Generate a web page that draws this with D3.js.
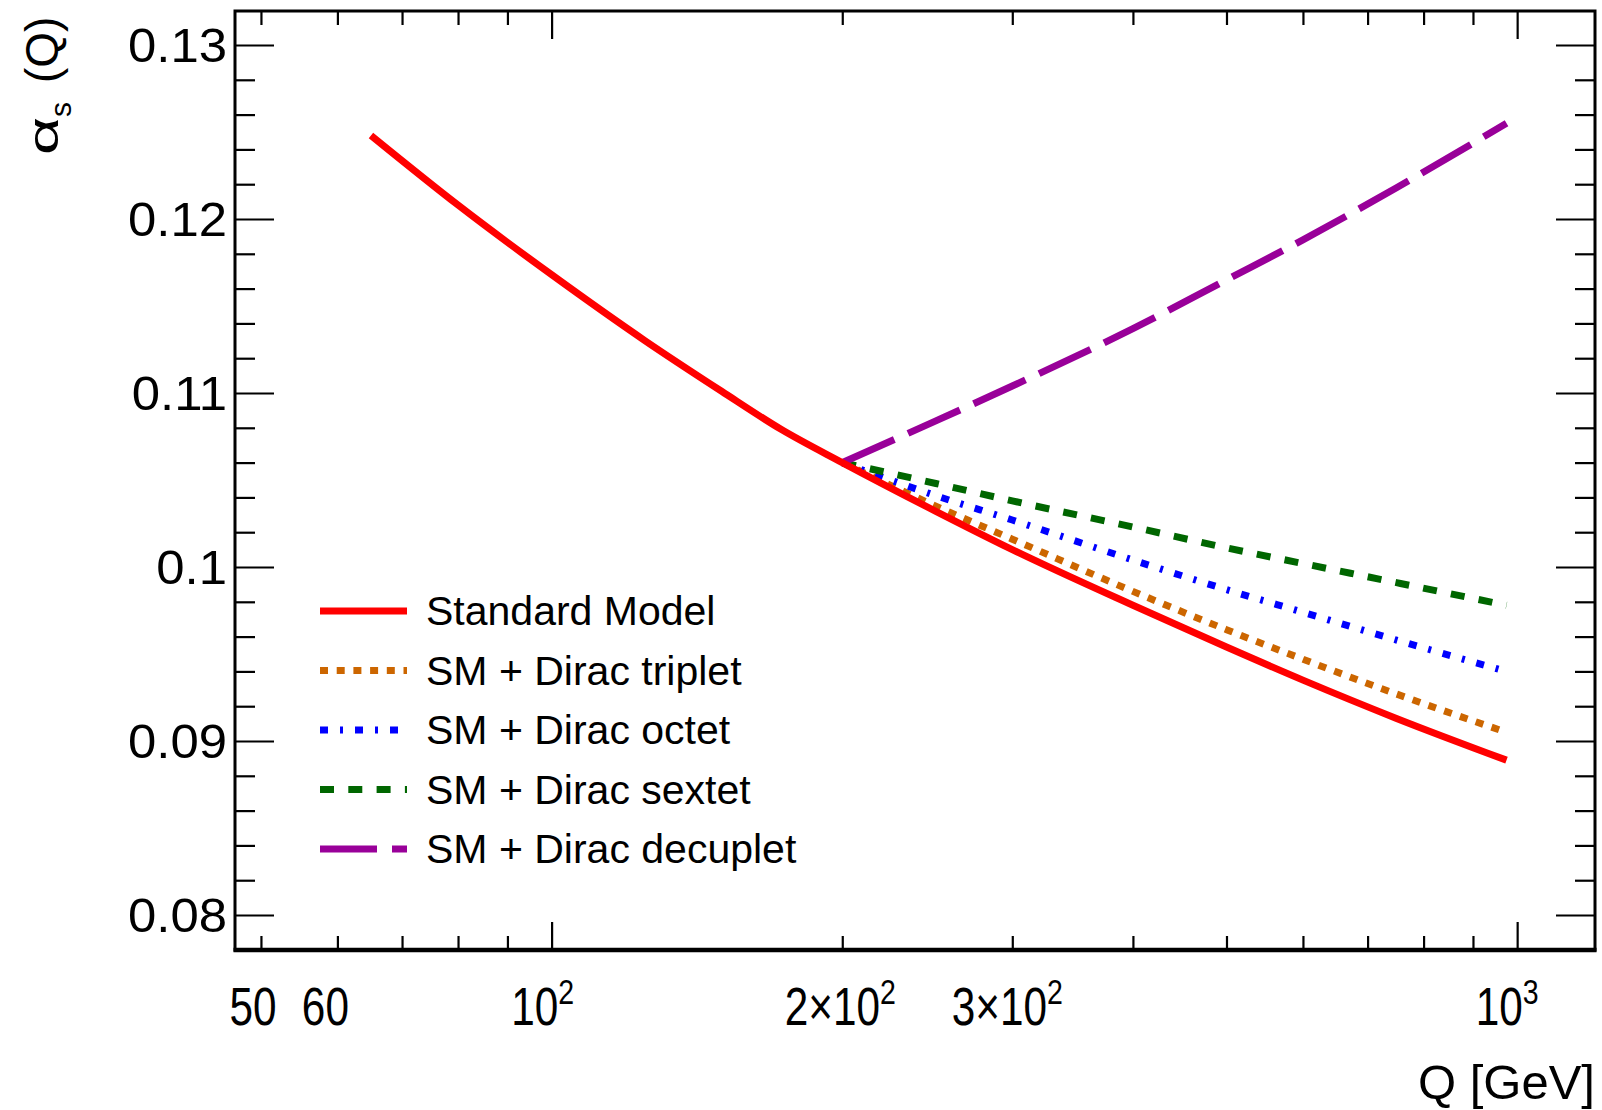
<!DOCTYPE html>
<html>
<head>
<meta charset="utf-8">
<script src="https://cdn.jsdelivr.net/npm/d3@7"></script>
<style>
body { margin: 0; background: #fff; }
text { font-family: "Liberation Sans", Arial, Helvetica, sans-serif; fill: #000; }
</style>
</head>
<body>
<script>
var svg_width  = 1602;
var svg_height = 1110;

// values
var smQ = [65, 80, 100, 125, 150, 173, 200, 250, 300, 400, 500, 600, 750, 975];
var smA = [0.1248, 0.1208, 0.1168, 0.1130, 0.1101, 0.1079, 0.1060, 0.1032, 0.1010, 0.0978, 0.0954, 0.0935, 0.0913, 0.0889];

var bsmQ      = [200, 250, 300, 400, 500, 600, 750, 975];
var tripletA  = [0.1060, 0.1035, 0.1016, 0.0986, 0.0964, 0.0947, 0.0927, 0.0905];
var octetA    = [0.1060, 0.1041, 0.1027, 0.1004, 0.0987, 0.0974, 0.0958, 0.0940];
var sextetA   = [0.1060, 0.1048, 0.1038, 0.1023, 0.1011, 0.1002, 0.0991, 0.0978];
var decupletA = [0.1060, 0.1084, 0.1104, 0.1137, 0.1165, 0.1188, 0.1218, 0.1255];

var legendNames = ["Standard Model", "SM + Dirac triplet", "SM + Dirac octet", "SM + Dirac sextet", "SM + Dirac decuplet"];

var yMajor = [0.08, 0.09, 0.10, 0.11, 0.12, 0.13];
var yLabels = ["0.08", "0.09", "0.1", "0.11", "0.12", "0.13"];
var xMajor = [100, 1000];
var xMinor = [50, 60, 70, 80, 90, 200, 300, 400, 500, 600, 700, 800, 900];
// label: [value, base, exponent]
var xLabels = [[50, "50", ""], [60, "60", ""], [100, "10", "2"], [200, "2\u00d710", "2"], [300, "3\u00d710", "2"], [1000, "10", "3"]];

//frame
var L = 235, R = 1595, T = 11, B = 950;

var x = d3.scaleLog().domain([47, 1204]).range([L, R]);
var y = d3.scaleLinear().domain([0.077989, 0.131954]).range([B, T]);

var svg = d3.select('body').append('svg')
            .attr('width', svg_width)
            .attr('height', svg_height);

var yMinor = d3.range(0.082, 0.1295, 0.002).filter(function(v){
    return Math.abs(Math.round(v*100) - v*100) > 1e-6;
});

function noLabel(){ return ""; }

function addAxis(axis, tx, ty){
    var g = svg.append("g").attr("transform", "translate(" + tx + "," + ty + ")").call(axis);
    g.select(".domain").remove();
    g.selectAll(".tick line").attr("stroke", "#000").attr("stroke-width", 2.2);
    g.selectAll(".tick text").remove();
    return g;
}

// ticks on all four sides, pointing inwards
addAxis(d3.axisLeft(y).tickValues(yMajor).tickSize(-39).tickFormat(noLabel), L, 0);
addAxis(d3.axisLeft(y).tickValues(yMinor).tickSize(-20).tickFormat(noLabel), L, 0);
addAxis(d3.axisRight(y).tickValues(yMajor).tickSize(-39).tickFormat(noLabel), R, 0);
addAxis(d3.axisRight(y).tickValues(yMinor).tickSize(-20).tickFormat(noLabel), R, 0);
addAxis(d3.axisBottom(x).tickValues(xMajor).tickSize(-28).tickFormat(noLabel), 0, B);
addAxis(d3.axisBottom(x).tickValues(xMinor).tickSize(-14).tickFormat(noLabel), 0, B);
addAxis(d3.axisTop(x).tickValues(xMajor).tickSize(-28).tickFormat(noLabel), 0, T);
addAxis(d3.axisTop(x).tickValues(xMinor).tickSize(-14).tickFormat(noLabel), 0, T);

// frame
svg.append("rect").attr("x", L).attr("y", T).attr("width", R - L).attr("height", B - T)
   .attr("fill", "none").attr("stroke", "#000").attr("stroke-width", 3);
svg.append("line").attr("x1", L - 1.5).attr("x2", R + 1.5).attr("y1", B).attr("y2", B)
   .attr("stroke", "#000").attr("stroke-width", 4.5);

// y labels (a bit wider than the plain font)
svg.append("g").selectAll("text").data(yMajor).enter().append("text")
   .attr("transform", function(d){ return "translate(227," + (y(d) + 17) + ") scale(1.06,1)"; })
   .attr("text-anchor", "end")
   .style("font-size", "48px")
   .text(function(d, i){ return yLabels[i]; });

// x labels (taller than wide), small nudges like in the original
var xNudge = [-8, -12, -9, -2, -5, -10];
var xl = svg.append("g").selectAll("text").data(xLabels).enter().append("text")
   .attr("transform", function(d, i){ return "translate(" + (x(d[0]) + xNudge[i]) + ",1025) scale(0.92,1.15)"; })
   .attr("text-anchor", "middle")
   .style("font-size", "46px");
xl.append("tspan").text(function(d){ return d[1]; });
xl.append("tspan").attr("dy", -18).style("font-size", "31px").text(function(d){ return d[2]; });

// axis titles
svg.append("text").attr("x", R).attr("y", 1099).attr("text-anchor", "end")
   .style("font-size", "49px").text("Q [GeV]");

var yt = svg.append("g").attr("transform", "translate(58,157) rotate(-90)");
yt.append("text").attr("x", 2).attr("y", 0).attr("textLength", 38).attr("lengthAdjust", "spacingAndGlyphs")
  .style("font-size", "42px").text("\u03b1");
yt.append("text").attr("x", 40).attr("y", 13).style("font-size", "30px").text("s");
yt.append("text").attr("x", 74).attr("y", 0).style("font-size", "46px").text("(Q)");

// curves
var series = [
    {name: legendNames[1], q: bsmQ, a: tripletA,  color: "#cc6600", dash: "8,8.7"},
    {name: legendNames[2], q: bsmQ, a: octetA,    color: "#0000ff", dash: "8,12,3,12"},
    {name: legendNames[3], q: bsmQ, a: sextetA,   color: "#006600", dash: "14,14.3"},
    {name: legendNames[4], q: bsmQ, a: decupletA, color: "#990099", dash: "57,15"},
    {name: legendNames[0], q: smQ,  a: smA,       color: "#ff0000", dash: null}
];

var line = d3.line()
    .x(function(d){ return x(d[0]); })
    .y(function(d){ return y(d[1]); })
    .curve(d3.curveMonotoneX);

svg.append("g").selectAll("path").data(series).enter().append("path")
   .attr("d", function(s){ return line(d3.zip(s.q, s.a)); })
   .attr("fill", "none")
   .attr("stroke", function(s){ return s.color; })
   .attr("stroke-width", 7)
   .attr("stroke-dasharray", function(s){ return s.dash; });

// legend, SM first
var legendOrder = [series[4], series[0], series[1], series[2], series[3]];
var leg = svg.append("g").selectAll("g").data(legendOrder).enter().append("g")
   .attr("transform", function(d, i){ return "translate(0," + (611 + i*59.5) + ")"; });
leg.append("line").attr("x1", 320).attr("x2", 407).attr("y1", 0).attr("y2", 0)
   .attr("stroke", function(d){ return d.color; })
   .attr("stroke-width", 7)
   .attr("stroke-dasharray", function(d){ return d.dash; });
leg.append("text").attr("x", 426).attr("y", 14)
   .style("font-size", "41px")
   .text(function(d){ return d.name; });
</script>
</body>
</html>
